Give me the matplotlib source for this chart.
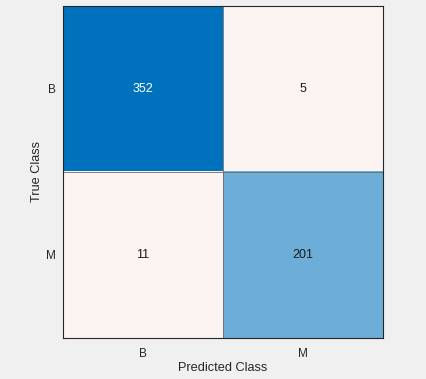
import matplotlib
matplotlib.use("Agg")
import matplotlib.pyplot as plt
import numpy as np

classes = ["B", "M"]
counts = np.array([[352, 5],
                   [11, 201]])

diag_rgb = np.array([0, 114, 189]) / 255.0
off_rgb = np.array([217, 83, 25]) / 255.0

plt.rcParams['font.family'] = ['Liberation Sans', 'DejaVu Sans']

fig = plt.figure(figsize=(4.27, 3.79), dpi=100, facecolor='#f0f0f0')
ax = fig.add_axes([0.1475, 0.1082, 0.7494, 0.876])

n = len(classes)
cmax = counts.max()
colors = np.ones((n, n, 3))
for i in range(n):
    for j in range(n):
        frac = counts[i, j] / cmax
        if i == j:
            colors[i, j] = 1 - frac * (1 - diag_rgb)
        else:
            colors[i, j] = 1 - max(frac, 0.06) * (1 - off_rgb)

ax.imshow(colors, aspect='auto', extent=(-0.5, n - 0.5, n - 0.5, -0.5), interpolation='nearest')
for k in range(1, n):
    ax.axhline(k - 0.5, color='#6b6b6b', lw=0.6)
    ax.axvline(k - 0.5, color='#6b6b6b', lw=0.6)

for i in range(n):
    for j in range(n):
        frac = counts[i, j] / cmax
        tc = 'white' if frac > 0.7 else '#1a1a1a'
        ax.text(j, i, str(counts[i, j]), ha='center', va='center', fontsize=9, color=tc)

ax.set_xticks(range(n))
ax.set_xticklabels(classes)
ax.set_yticks(range(n))
ax.set_yticklabels(classes)
ax.tick_params(axis='x', length=0, labelsize=8.5, colors='#262626', pad=7)
ax.tick_params(axis='y', length=0, labelsize=8.5, colors='#262626', pad=5)
ax.set_xlabel("Predicted Class", fontsize=9.2, color='#262626', labelpad=2)
ax.set_ylabel("True Class", fontsize=9.2, color='#262626', labelpad=2)
for s in ax.spines.values():
    s.set_color('#262626')
    s.set_linewidth(0.8)

fig.savefig("out.png", dpi=100, facecolor=fig.get_facecolor())
